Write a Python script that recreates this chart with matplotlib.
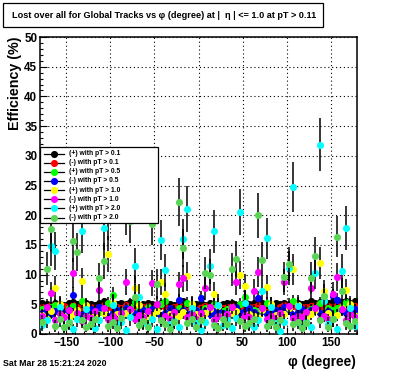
import numpy as np
import matplotlib
matplotlib.use("Agg")
import matplotlib.pyplot as plt
from matplotlib.patches import Rectangle
from matplotlib.lines import Line2D

# --- DATA: lost efficiency (%) in 5 degree phi bins, -180 .. 180 ---
phi = np.arange(-177.5, 180.0, 5.0)

pos_01 = [5.2, 5.0, 4.9, 5.3, 5.1, 4.8, 5.2, 5.4, 5.0, 4.9, 5.3, 5.1,
          4.9, 5.2, 5.5, 5.0, 4.8, 5.1, 5.3, 5.0, 5.4, 5.2, 4.9, 5.1,
          5.3, 5.0, 4.8, 5.2, 5.4, 5.1, 4.9, 5.2, 5.5, 5.0, 4.8, 5.1,
          5.2, 4.9, 5.3, 5.1, 4.8, 5.0, 5.3, 5.2, 4.9, 5.1, 5.4, 5.0,
          5.2, 5.0, 5.3, 5.1, 4.9, 5.2, 5.0, 5.3, 5.1, 5.4, 5.2, 5.0,
          5.3, 5.5, 5.2, 5.4, 5.6, 5.3, 5.5, 5.7, 5.4, 5.6, 5.3, 5.5]
pos_01_err = [0.5, 0.4, 0.5, 0.5, 0.4, 0.5, 0.5, 0.6, 0.5, 0.4, 0.5, 0.5,
              0.4, 0.5, 0.6, 0.5, 0.4, 0.5, 0.5, 0.4, 0.6, 0.5, 0.4, 0.5,
              0.5, 0.4, 0.4, 0.5, 0.6, 0.5, 0.4, 0.5, 0.6, 0.5, 0.4, 0.5,
              0.5, 0.4, 0.5, 0.5, 0.4, 0.4, 0.5, 0.5, 0.4, 0.5, 0.6, 0.4,
              0.5, 0.4, 0.5, 0.5, 0.4, 0.5, 0.4, 0.5, 0.5, 0.6, 0.5, 0.4,
              0.5, 0.6, 0.5, 0.5, 0.6, 0.5, 0.5, 0.6, 0.5, 0.6, 0.5, 0.5]

neg_01 = [4.6, 4.4, 4.8, 4.5, 4.3, 4.7, 4.5, 4.9, 4.6, 4.4, 4.7, 4.5,
          4.3, 4.6, 4.8, 4.5, 4.2, 4.6, 4.4, 4.8, 4.5, 4.7, 4.3, 4.5,
          4.7, 4.4, 4.6, 4.9, 4.5, 4.3, 4.6, 4.8, 4.4, 4.6, 4.5, 4.2,
          4.5, 4.7, 4.4, 4.6, 4.8, 4.3, 4.5, 4.7, 4.6, 4.4, 4.8, 4.5,
          4.6, 4.8, 4.4, 4.5, 4.7, 4.3, 4.6, 4.8, 4.5, 4.7, 4.4, 4.6,
          4.5, 4.7, 4.9, 4.6, 4.4, 4.7, 4.5, 4.8, 4.6, 4.9, 4.5, 4.7]
neg_01_err = [0.5, 0.5, 0.6, 0.5, 0.4, 0.5, 0.5, 0.6, 0.5, 0.4, 0.5, 0.5,
              0.4, 0.5, 0.6, 0.5, 0.4, 0.5, 0.4, 0.6, 0.5, 0.5, 0.4, 0.5,
              0.5, 0.4, 0.5, 0.6, 0.5, 0.4, 0.5, 0.6, 0.4, 0.5, 0.5, 0.4,
              0.5, 0.5, 0.4, 0.5, 0.6, 0.4, 0.5, 0.5, 0.5, 0.4, 0.6, 0.5,
              0.5, 0.6, 0.4, 0.5, 0.5, 0.4, 0.5, 0.6, 0.5, 0.5, 0.4, 0.5,
              0.5, 0.5, 0.6, 0.5, 0.4, 0.5, 0.5, 0.6, 0.5, 0.6, 0.5, 0.5]

pos_05 = [4.2, 3.8, 4.5, 4.9, 4.0, 3.6, 4.3, 4.7, 4.1, 5.6, 4.4, 3.9,
          4.1, 3.7, 4.4, 5.2, 6.6, 4.0, 3.8, 4.3, 4.6, 5.4, 4.2, 3.9,
          4.5, 4.0, 3.7, 5.0, 5.5, 4.2, 3.9, 4.4, 4.1, 5.3, 4.6, 4.0,
          3.8, 4.3, 4.0, 5.1, 4.5, 3.9, 4.2, 4.6, 4.0, 5.0, 6.2, 4.3,
          4.1, 3.8, 4.4, 5.2, 4.7, 4.0, 3.7, 4.3, 4.5, 5.5, 4.8, 4.1,
          3.9, 4.2, 4.6, 5.3, 6.4, 4.4, 4.0, 4.3, 4.7, 5.4, 4.5, 4.2]
pos_05_err = [0.8, 0.7, 0.9, 1.0, 0.8, 0.7, 0.8, 0.9, 0.8, 1.2, 0.9, 0.7,
              0.8, 0.7, 0.9, 1.0, 1.3, 0.8, 0.7, 0.8, 0.9, 1.1, 0.8, 0.7,
              0.9, 0.8, 0.7, 1.0, 1.1, 0.8, 0.7, 0.9, 0.8, 1.0, 0.9, 0.8,
              0.7, 0.8, 0.8, 1.0, 0.9, 0.7, 0.8, 0.9, 0.8, 1.0, 1.2, 0.8,
              0.8, 0.7, 0.9, 1.0, 0.9, 0.8, 0.7, 0.8, 0.9, 1.1, 0.9, 0.8,
              0.7, 0.8, 0.9, 1.0, 1.2, 0.9, 0.8, 0.8, 0.9, 1.1, 0.9, 0.8]

neg_05 = [3.6, 4.1, 3.3, 3.8, 4.3, 3.5, 4.0, 6.6, 3.7, 3.2, 3.9, 4.2,
          3.4, 4.5, 3.8, 3.1, 3.6, 4.0, 3.5, 4.4, 3.9, 3.3, 3.7, 4.1,
          3.5, 4.2, 3.8, 3.0, 3.6, 4.3, 3.9, 5.7, 4.0, 3.4, 3.7, 4.1,
          6.0, 3.8, 3.3, 3.9, 4.2, 3.6, 3.1, 4.0, 4.6, 3.5, 3.8, 4.3,
          3.7, 6.0, 3.9, 3.4, 3.6, 4.1, 3.8, 4.5, 4.0, 3.2, 3.7, 4.2,
          3.5, 4.0, 4.4, 3.6, 3.3, 3.9, 6.4, 5.8, 4.1, 3.5, 3.8, 4.2]
neg_05_err = [0.7, 0.8, 0.7, 0.8, 0.9, 0.7, 0.8, 1.3, 0.8, 0.7, 0.8, 0.9,
              0.7, 0.9, 0.8, 0.7, 0.8, 0.8, 0.7, 0.9, 0.8, 0.7, 0.8, 0.8,
              0.7, 0.9, 0.8, 0.7, 0.8, 0.9, 0.8, 1.1, 0.8, 0.7, 0.8, 0.8,
              1.2, 0.8, 0.7, 0.8, 0.9, 0.7, 0.7, 0.8, 0.9, 0.7, 0.8, 0.9,
              0.8, 1.2, 0.8, 0.7, 0.8, 0.8, 0.8, 0.9, 0.8, 0.7, 0.8, 0.9,
              0.7, 0.8, 0.9, 0.8, 0.7, 0.8, 1.2, 1.1, 0.8, 0.7, 0.8, 0.9]

pos_10 = [3.2, 2.6, 3.8, 7.8, 5.0, 3.0, 2.5, 3.4, 4.1, 8.9, 4.8, 2.9,
          3.1, 2.4, 3.6, 13.5, 5.2, 3.3, 2.7, 3.5, 4.0, 7.7, 4.9, 3.0,
          2.6, 3.2, 3.9, 8.7, 6.7, 3.4, 2.8, 3.1, 3.7, 9.7, 5.1, 3.3,
          2.9, 3.5, 4.2, 6.8, 4.7, 3.1, 2.5, 3.6, 3.9, 9.9, 8.0, 3.4,
          3.0, 2.7, 4.0, 7.9, 5.0, 3.2, 2.8, 3.4, 4.3, 10.9, 4.9, 3.1,
          2.6, 3.3, 4.1, 11.9, 7.2, 3.5, 2.9, 3.2, 4.4, 7.4, 5.1, 3.0]
pos_10_err = [1.0, 0.9, 1.1, 2.0, 1.3, 1.0, 0.9, 1.0, 1.1, 2.2, 1.3, 0.9,
              1.0, 0.9, 1.1, 3.0, 1.4, 1.0, 0.9, 1.0, 1.1, 2.0, 1.3, 1.0,
              0.9, 1.0, 1.1, 2.2, 1.9, 1.0, 0.9, 1.0, 1.1, 2.4, 1.3, 1.0,
              0.9, 1.0, 1.1, 1.9, 1.3, 1.0, 0.9, 1.0, 1.1, 2.4, 2.1, 1.0,
              1.0, 0.9, 1.1, 2.0, 1.3, 1.0, 0.9, 1.0, 1.1, 2.6, 1.3, 1.0,
              0.9, 1.0, 1.1, 2.7, 1.9, 1.0, 0.9, 1.0, 1.2, 1.9, 1.3, 1.0]

neg_10 = [3.0, 4.6, 6.9, 2.4, 3.3, 2.8, 4.1, 10.3, 3.5, 2.2, 3.1, 2.7,
          3.8, 7.4, 4.4, 2.6, 3.0, 2.3, 3.6, 8.75, 4.2, 2.5, 3.2, 2.9,
          3.9, 8.6, 5.1, 2.4, 3.0, 2.6, 3.7, 8.4, 9.4, 2.8, 3.3, 2.5,
          3.6, 7.8, 4.5, 2.3, 3.1, 2.7, 3.4, 4.6, 8.75, 2.6, 3.2, 2.9,
          7.2, 10.4, 4.3, 2.5, 3.0, 2.4, 3.5, 8.75, 4.7, 2.7, 3.1, 2.8,
          3.7, 7.7, 4.4, 2.6, 3.0, 2.5, 6.8, 9.6, 4.2, 2.4, 3.3, 2.9]
neg_10_err = [1.0, 1.3, 1.9, 0.9, 1.0, 0.9, 1.2, 2.5, 1.0, 0.8, 1.0, 0.9,
              1.1, 2.0, 1.2, 0.9, 1.0, 0.8, 1.1, 2.2, 1.2, 0.9, 1.0, 0.9,
              1.1, 2.2, 1.3, 0.9, 1.0, 0.9, 1.1, 2.1, 2.3, 0.9, 1.0, 0.9,
              1.1, 2.1, 1.2, 0.8, 1.0, 0.9, 1.0, 1.3, 2.2, 0.9, 1.0, 0.9,
              2.0, 2.5, 1.2, 0.9, 1.0, 0.8, 1.1, 2.2, 1.3, 0.9, 1.0, 0.9,
              1.1, 2.0, 1.2, 0.9, 1.0, 0.9, 1.9, 2.3, 1.2, 0.8, 1.0, 0.9]

pos_20 = [1.5, 2.3, 14.8, 13.9, 4.6, 1.2, 2.0, 0.8, 2.6, 17.3, 4.2, 1.7,
          1.0, 2.4, 17.8, 19.7, 4.9, 1.4, 2.1, 0.6, 2.8, 11.5, 6.3, 1.9,
          1.3, 2.5, 0.9, 15.8, 10.7, 1.6, 2.2, 1.1, 16.0, 21.1, 4.4, 1.8,
          0.7, 2.0, 11.4, 17.3, 4.8, 1.5, 2.3, 1.0, 2.7, 20.5, 5.2, 1.6,
          1.2, 2.4, 7.2, 16.1, 4.5, 1.8, 0.5, 2.1, 11.1, 24.7, 4.7, 1.3,
          2.0, 1.1, 10.2, 31.9, 5.5, 1.7, 2.6, 0.9, 10.6, 17.9, 4.3, 1.4]
pos_20_err = [1.0, 1.3, 3.3, 3.2, 1.8, 0.9, 1.2, 0.8, 1.4, 3.6, 1.7, 1.1,
              0.9, 1.3, 3.6, 3.8, 1.9, 1.0, 1.2, 0.7, 1.4, 2.9, 2.1, 1.2,
              1.0, 1.3, 0.8, 3.4, 2.8, 1.1, 1.3, 0.9, 3.4, 3.9, 1.8, 1.2,
              0.8, 1.2, 2.9, 3.6, 1.9, 1.0, 1.3, 0.9, 1.4, 3.9, 2.0, 1.1,
              1.0, 1.3, 2.3, 3.4, 1.8, 1.2, 0.7, 1.2, 2.8, 4.2, 1.9, 1.0,
              1.2, 0.9, 2.7, 4.4, 2.0, 1.1, 1.4, 0.8, 2.8, 3.7, 1.8, 1.0]

neg_20 = [2.0, 11.0, 17.6, 1.4, 2.6, 1.1, 1.9, 15.6, 13.8, 2.3, 1.2, 1.7,
          2.5, 9.4, 12.3, 1.3, 2.0, 1.0, 2.7, 20.5, 19.1, 6.3, 1.5, 2.2,
          1.1, 18.6, 8.4, 2.4, 1.6, 0.9, 2.1, 22.2, 14.4, 1.8, 2.6, 1.2,
          2.3, 10.3, 9.9, 1.5, 1.0, 2.5, 1.7, 10.9, 12.6, 2.2, 1.3, 1.9,
          2.6, 20.0, 12.5, 1.4, 2.0, 1.1, 2.4, 9.6, 11.8, 1.6, 2.1, 1.0,
          1.8, 9.5, 13.2, 2.3, 6.4, 1.2, 2.5, 16.4, 7.2, 1.9, 1.3, 2.2]
neg_20_err = [1.2, 2.8, 3.6, 1.0, 1.4, 0.9, 1.2, 3.4, 3.2, 1.3, 0.9, 1.1,
              1.4, 2.6, 3.0, 1.0, 1.2, 0.8, 1.4, 3.9, 3.7, 2.1, 1.0, 1.3,
              0.9, 3.7, 2.5, 1.3, 1.1, 0.8, 1.2, 4.0, 3.2, 1.1, 1.4, 0.9,
              1.3, 2.7, 2.7, 1.0, 0.8, 1.4, 1.1, 2.8, 3.0, 1.3, 1.0, 1.2,
              1.4, 3.8, 3.0, 1.0, 1.2, 0.9, 1.3, 2.6, 2.9, 1.1, 1.2, 0.8,
              1.1, 2.6, 3.1, 1.3, 2.1, 0.9, 1.4, 3.4, 2.3, 1.2, 1.0, 1.3]

labels = ["(+) with pT > 0.1", "(-) with pT > 0.1",
          "(+) with pT > 0.5", "(-) with pT > 0.5",
          "(+) with pT > 1.0", "(-) with pT > 1.0",
          "(+) with pT > 2.0", "(-) with pT > 2.0"]
series = [pos_01, neg_01, pos_05, neg_05, pos_10, neg_10, pos_20, neg_20]
errors = [pos_01_err, neg_01_err, pos_05_err, neg_05_err,
          pos_10_err, neg_10_err, pos_20_err, neg_20_err]
colors = ["#000000", "#ff0000", "#00ff00", "#0000ff",
          "#ffff00", "#ff00ff", "#00ffff", "#59d454"]

x_ticks = [-150, -100, -50, 0, 50, 100, 150]
x_tick_labels = ["\u2212150", "\u2212100", "\u221250", "0", "50", "100", "150"]
y_ticks = [0, 5, 10, 15, 20, 25, 30, 35, 40, 45, 50]

title = "Lost over all for Global Tracks vs \u03c6 (degree) at |  \u03b7 | <= 1.0 at pT > 0.11"
date_stamp = "Sat Mar 28 15:21:24 2020"

# --- FIGURE ---
W, H = 396, 372
plt.rcParams['font.family'] = ['Liberation Sans', 'DejaVu Sans']
plt.rcParams['font.weight'] = 'bold'

fig = plt.figure(figsize=(W / 100, H / 100), dpi=100)
ax = fig.add_axes([40 / W, 1 - 334 / H, 317 / W, 297 / H])

for i, (vals, errs, col) in enumerate(zip(series, errors, colors)):
    ax.errorbar(phi, vals, yerr=errs, fmt='o', color=col, ms=5.1, mew=0,
                ecolor='black', elinewidth=1.1, capsize=0, zorder=3 + i * 0.1)

ax.set_xlim(-180, 180)
ax.set_ylim(0, 50)
ax.set_xticks(x_ticks)
ax.set_xticklabels(x_tick_labels)
ax.set_yticks(y_ticks)
ax.set_xticks(np.arange(-180, 181, 10), minor=True)
ax.set_yticks(np.arange(0, 51, 1), minor=True)
ax.tick_params(which='both', direction='in', top=False, right=False,
               labelsize=8.4, width=0.8, colors='black')
ax.tick_params(which='major', length=5, pad=2)
ax.tick_params(which='minor', length=2.5)
ax.grid(True, which='major', color='black', linestyle=(0, (1, 2.5)), linewidth=0.8)
ax.set_axisbelow(True)
for sp in ax.spines.values():
    sp.set_linewidth(1.1)

# --- OVERLAY (title box, legend, labels) in pixel coordinates ---
ov = fig.add_axes([0, 0, 1, 1], zorder=10)
ov.set_xlim(0, W)
ov.set_ylim(H, 0)
ov.axis('off')
ov.patch.set_alpha(0)

ov.add_patch(Rectangle((3, 3), 320, 24, facecolor='white', edgecolor='black', lw=0.9))
ov.text(164, 15.5, title, ha='center', va='center', fontsize=6.6, fontweight='bold')

ov.add_patch(Rectangle((40, 147), 118, 76, facecolor='white', edgecolor='black', lw=0.9))
for i, (lab, col) in enumerate(zip(labels, colors)):
    yy = 153.5 + i * 9.15
    ov.add_line(Line2D([44, 64], [yy, yy], color='black', lw=0.9))
    ov.plot([54], [yy], 'o', color=col, ms=5.1, mew=0)
    ov.text(69, yy, lab, ha='left', va='center', fontsize=4.9, fontweight='bold')

ov.text(15, 37, "Efficiency (%)", rotation=90, ha='center', va='top',
        fontsize=10.3, fontweight='bold')
ov.text(356, 362, "\u03c6 (degree)", ha='right', va='center',
        fontsize=9.9, fontweight='bold')
ov.text(3, 364, date_stamp, ha='left', va='center', fontsize=6.3, fontweight='bold')

fig.savefig("out.png", dpi=100)
